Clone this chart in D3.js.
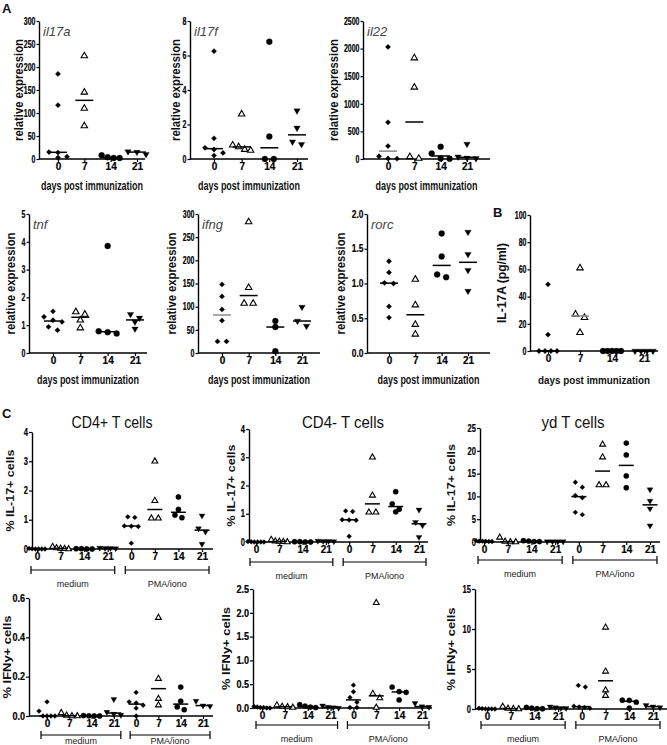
<!DOCTYPE html>
<html>
<head>
<meta charset="utf-8">
<script src="https://cdn.jsdelivr.net/npm/d3@7"></script>
<style>
body { margin: 0; background: #fff; }
text { font-family: "Liberation Sans Narrow", "Liberation Sans", Arial, sans-serif; }
</style>
</head>
<body>
<script>
// tick labels of the groups
var days = ["0", "7", "14", "21"];
var daysC = ["0", "7", "14", "21", "0", "7", "14", "21"];

// A: relative expression per day (0, 7, 14, 21)
var il17a = [[185, 117, 15, 14, 5, 3], [224, 145, 110, 72], [8, 4, 2, 2], [16, 10, 15]];
var il17f = [[6.25, 1.2, 0.65, 0.55, 0.35, 0.2], [2.6, 0.8, 0.7, 0.55, 0.5], [6.8, 1.3, 0, 0], [2.8, 1.8, 1.0, 0.85]];
var il22 = [[2030, 665, 235, 50, 10, 5], [1830, 1300, 40, 10], [220, 100, 10, 5], [270, 40, 20, 10]];
var tnf = [[1.5, 1.3, 1.18, 1.12, 0.94, 0.82], [1.48, 1.39, 1.18, 0.9], [3.85, 0.78, 0.75, 0.7], [1.39, 1.26, 1.12, 0.87]];
var ifng = [[148, 122, 94, 70, 25, 25], [283, 141, 107, 107], [69, 56, 4], [99, 69, 58]];
var rorc = [[1.32, 1.16, 1.01, 1.0, 0.67, 0.51], [1.06, 0.69, 0.41, 0.27], [1.72, 1.39, 1.13, 1.09], [1.74, 1.42, 1.19, 0.89]];

// B: IL-17A protein (pg/ml)
var il17aProtein = [[49, 12, 0, 0, 0, 0], [61, 27, 24.5, 13.5], [0, 0, 0, 0, 0], [0, 0, 0, 0]];

// C: % positive cells, medium days 0-21 then PMA/iono days 0-21
var cd4pIl17 = [[0.02, 0.01, 0, 0, 0, 0], [0.08, 0.03, 0.02, 0.01, 0], [0.01, 0.01, 0, 0], [0.04, 0.03, 0.03, 0.02],
                [1.1, 1.08, 0.79, 0.78, 0.77, 0.2], [3.0, 1.65, 1.05, 1.05], [1.78, 1.35, 1.16, 1.07], [1.14, 0.7, 0.59, 0.17]];
var cd4mIl17 = [[0.02, 0.01, 0, 0, 0, 0], [0.08, 0.03, 0.02, 0.01, 0], [0.01, 0.01, 0, 0], [0.04, 0.03, 0.03, 0.02],
                [1.1, 1.08, 0.79, 0.78, 0.77, 0.2], [3.0, 1.65, 1.05, 1.05], [1.78, 1.35, 1.16, 1.07], [1.14, 0.7, 0.59, 0.17]];
var gdIl17 = [[0.3, 0.2, 0.15, 0.1, 0.2, 0.1], [1.0, 0.1, 0.0, 0.0], [0.3, 0.2, 0.1, 0.1], [0.1, 0.1, 0.1, 0.1],
              [13.1, 12.0, 10.2, 9.7, 6.5, 6.0], [21.4, 18.6, 12.5, 12.5], [21.7, 19.1, 14.5, 11.9], [11.5, 9.0, 7.3, 3.6]];
var cd4pIfng = [[0.072, 0.025, 0, 0, 0, 0], [0.016, 0.003, 0, 0], [0.002, 0.001, 0, 0], [0.085, 0.02, 0.01, 0.005],
                [0.12, 0.072, 0.066, 0.055, 0.04, 0.0], [0.5, 0.19, 0.088, 0.055], [0.147, 0.075, 0.046, 0.032], [0.076, 0.053, 0.05]];
var cd4mIfng = [[0.03, 0.02, 0.01, 0.01, 0, 0], [0.06, 0.03, 0.02, 0.01], [0.07, 0.04, 0.02, 0.01], [0.05, 0.02, 0.01, 0.0],
                [0.48, 0.34, 0.22, 0.12, 0.01, 0.01], [2.21, 0.3, 0.21, 0.01], [0.44, 0.345, 0.33, 0.17], [0.1, 0.03, 0.02]];
var gdIfng = [[0.1, 0.05, 0.02, 0.02, 0.01, 0.0], [0.3, 0.05, 0.02, 0], [0.2, 0.1, 0.05, 0.03], [0.3, 0.2, 0.1, 0.1],
              [2.95, 2.75, 0.35, 0.25, 0.2, 0.1], [10.2, 4.7, 2.35, 1.66], [1.1, 1.08, 0.85, 0.12], [0.46, 0.3, 0.2]];

var svg = d3.select("body").append("svg")
    .attr("width", 667)
    .attr("height", 745);

// put a text; len squeezes it to the narrow look of the original
function label(x, y, str, o) {
    var t = svg.append("text")
        .attr("x", x)
        .attr("y", y)
        .attr("text-anchor", o.anchor || "middle")
        .style("font-size", o.size + "px")
        .style("font-weight", o.weight || "bold")
        .style("fill", o.fill || "#111")
        .text(str);
    if (o.italic) t.style("font-style", "italic");
    if (o.len) t.attr("textLength", o.len).attr("lengthAdjust", "spacingAndGlyphs");
    if (o.rotate) t.attr("transform", "rotate(-90," + x + "," + y + ")");
    if (o.family) t.style("font-family", o.family);
    return t;
}

// GraphPad-like scatter: points at about the same height share a row
function spread(vals, y, step, maxW, thr) {
    var pts = vals.map(function(v) { return {v: v, py: y(v)}; })
        .sort(function(a, b) { return a.py - b.py; });
    var rows = [];
    pts.forEach(function(p) {
        var r = rows[rows.length - 1];
        if (r && p.py - r.anchor < thr) r.pts.push(p);
        else rows.push({anchor: p.py, pts: [p]});
    });
    rows.forEach(function(r) {
        var k = r.pts.length;
        var s = k > 1 ? Math.min(step, maxW / (k - 1)) : 0;
        r.pts.forEach(function(p, i) { p.dx = (i - (k - 1) / 2) * s; });
    });
    return pts;
}

function drawPanel(p) {
    var small = p.small;
    var y = d3.scaleLinear().domain(p.domain).range([p.bottom, p.top]);
    var x = d3.scalePoint().domain(d3.range(p.data.length)).range([p.c0, p.c1]);
    var g = svg.append("g");

    var ya = g.append("g")
        .attr("transform", "translate(" + p.ax + ",0)")
        .call(d3.axisLeft(y).tickValues(p.ticks).tickFormat(p.fmt).tickSize(small ? 3 : 2.5).tickPadding(1).tickSizeOuter(0));
    var xa = g.append("g")
        .attr("transform", "translate(0," + p.bottom + ")")
        .call(d3.axisBottom(x).tickSize(3).tickPadding(1).tickFormat(function(i) { return p.labels[i]; }));
    xa.select(".domain").attr("d", "M" + p.ax + ",0H" + p.ex);

    [ya, xa].forEach(function(a) {
        a.select(".domain").attr("stroke-width", 1.4);
        a.selectAll(".tick line").attr("stroke-width", 1.2);
        a.selectAll(".tick text")
            .style("font-size", "10px")
            .style("font-weight", "bold")
            .attr("fill", "#000")
            .attr("stroke", "#000")
            .attr("stroke-width", 0.2);
    });
    // the y numbers are very narrow in the original
    ya.selectAll(".tick text")
        .attr("textLength", function() { return this.textContent.length * (small ? 4.2 : 3.9); })
        .attr("lengthAdjust", "spacingAndGlyphs");

    // points
    var sym = [
        d3.symbol().type(d3.symbolSquare).size(small ? 12 : 14),
        d3.symbol().type(d3.symbolTriangle).size(small ? 15 : 18),
        d3.symbol().type(d3.symbolCircle).size(small ? 22 : 28),
        d3.symbol().type(d3.symbolTriangle).size(small ? 15 : 18)
    ];
    var rot = [45, 0, 0, 180];
    p.data.forEach(function(vals, i) {
        var k = i % 4;
        var pts = spread(vals, y, small ? 7 : 9, small ? 16 : 18, 5.5);
        g.selectAll(null)
            .data(pts)
            .enter().append("path")
            .attr("d", sym[k]())
            .attr("transform", function(d) {
                return "translate(" + (x(i) + d.dx) + "," + d.py + ") rotate(" + rot[k] + ")";
            })
            .attr("fill", k === 1 ? "#fff" : "#000")
            .attr("stroke", "#000")
            .attr("stroke-width", k === 1 ? 1.1 : 0.3);

        var med = d3.median(vals);
        var hw = small ? 7.5 : 9;
        g.append("line")
            .attr("x1", x(i) - hw).attr("x2", x(i) + hw)
            .attr("y1", y(med)).attr("y2", y(med))
            .attr("stroke", (p.grayMed || []).indexOf(i) >= 0 ? "#8a8a8a" : "#000")
            .attr("stroke-width", 1.5);
    });

    // y label
    label(p.ylabX, (p.top + p.bottom) / 2, p.ylab, {size: small ? 10 : 12, len: p.ylabLen, rotate: true});
    if (p.gene) label(p.ax + 4, p.top + 15, p.gene, {size: 13, weight: "normal", italic: true, anchor: "start", fill: "#444", family: "Liberation Sans, Arial"});
    if (p.xlab) label((p.ax + p.ex) / 2, p.xlabY, p.xlab, {size: p.xlabSize || 12, len: p.xlabLen});
    if (p.title) label(p.titleX, p.titleY, p.title, {size: 17, weight: "normal", len: p.titleLen, family: "Liberation Sans, Arial"});

    // medium / PMA bracket
    if (p.bracketY) {
        [[0, 3, "medium"], [4, 7, "PMA/iono"]].forEach(function(b) {
            var x1 = x(b[0]) - 6, x2 = x(b[1]) + 7, by = p.bracketY;
            g.append("path")
                .attr("d", "M" + x1 + "," + (by - 4) + "V" + (by + 4) + "M" + x1 + "," + by + "H" + x2 +
                    "M" + x2 + "," + (by - 4) + "V" + (by + 4))
                .attr("fill", "none")
                .attr("stroke", "#000")
                .attr("stroke-width", 1.2);
            label((x1 + x2) / 2, by + (p.bracketGap || 17), b[2], {size: 9, weight: "normal", fill: "#222", family: "Liberation Sans, Arial"});
        });
    }
}

var fInt = d3.format("d");
var f1 = d3.format(".1f");

// panel A, first row
drawPanel({data: il17a, labels: days, ax: 39, ex: 145, c0: 58, c1: 137, top: 21, bottom: 159,
    domain: [0, 300], ticks: [0, 50, 100, 150, 200, 250, 300], fmt: fInt, gene: "il17a",
    ylab: "relative expression", ylabX: 23, ylabLen: 102, xlab: "days post immunization", xlabY: 190, xlabLen: 102});
drawPanel({data: il17f, labels: days, ax: 190, ex: 308, c0: 214, c1: 297, top: 21, bottom: 159,
    domain: [0, 8], ticks: [0, 2, 4, 6, 8], fmt: fInt, gene: "il17f",
    ylab: "relative expression", ylabX: 180, ylabLen: 102, xlab: "days post immunization", xlabY: 190, xlabLen: 102});
drawPanel({data: il22, labels: days, ax: 363, ex: 490, c0: 388, c1: 467, top: 21, bottom: 159,
    domain: [0, 2500], ticks: [0, 500, 1000, 1500, 2000, 2500], fmt: fInt, gene: "il22", grayMed: [0],
    ylab: "relative expression", ylabX: 338, ylabLen: 102, xlab: "days post immunization", xlabY: 190, xlabLen: 102});

// panel A, second row
drawPanel({data: tnf, labels: days, ax: 29, ex: 147, c0: 53, c1: 135, top: 214, bottom: 353,
    domain: [0, 5], ticks: [0, 1, 2, 3, 4, 5], fmt: fInt, gene: "tnf",
    ylab: "relative expression", ylabX: 15, ylabLen: 102, xlab: "days post immunization", xlabY: 384, xlabLen: 102});
drawPanel({data: ifng, labels: days, ax: 198, ex: 320, c0: 222, c1: 302, top: 214, bottom: 353,
    domain: [0, 300], ticks: [0, 50, 100, 150, 200, 250, 300], fmt: fInt, gene: "ifng", grayMed: [0],
    ylab: "relative expression", ylabX: 176, ylabLen: 102, xlab: "days post immunization", xlabY: 384, xlabLen: 102});
drawPanel({data: rorc, labels: days, ax: 367, ex: 490, c0: 389, c1: 468, top: 214, bottom: 353,
    domain: [0, 2], ticks: [0, 0.5, 1, 1.5, 2], fmt: f1, gene: "rorc",
    ylab: "relative expression", ylabX: 345, ylabLen: 102, xlab: "days post immunization", xlabY: 384, xlabLen: 102});

// panel B
drawPanel({data: il17aProtein, labels: days, ax: 530, ex: 658, c0: 548, c1: 644, top: 215, bottom: 351,
    domain: [0, 100], ticks: [0, 20, 40, 60, 80, 100], fmt: fInt, grayMed: [1],
    ylab: "IL-17A (pg/ml)", ylabX: 506, ylabLen: 80, xlab: "days post immunization", xlabY: 384, xlabLen: 112, xlabSize: 11});

// panel C, IL-17
drawPanel({data: cd4pIl17, labels: daysC, small: true, ax: 32, ex: 213, c0: 37, c1: 202, top: 432, bottom: 549,
    domain: [0, 4], ticks: [0, 1, 2, 3, 4], fmt: fInt, title: "CD4+ T cells", titleX: 112, titleY: 428, titleLen: 81,
    ylab: "% IL-17+ cells", ylabX: 14, ylabLen: 82, bracketY: 570});
drawPanel({data: cd4mIl17, labels: daysC, small: true, ax: 249, ex: 428, c0: 256, c1: 419, top: 429, bottom: 542,
    domain: [0, 4], ticks: [0, 1, 2, 3, 4], fmt: fInt, title: "CD4- T cells", titleX: 343, titleY: 428, titleLen: 82,
    ylab: "% IL-17+ cells", ylabX: 235, ylabLen: 82, bracketY: 562});
drawPanel({data: gdIl17, labels: daysC, small: true, ax: 480, ex: 660, c0: 484, c1: 650, top: 428, bottom: 542,
    domain: [0, 25], ticks: [0, 5, 10, 15, 20, 25], fmt: fInt, title: "yd T cells", titleX: 573, titleY: 428, titleLen: 63,
    ylab: "% IL-17+ cells", ylabX: 455, ylabLen: 82, bracketY: 560});

// panel C, IFNy
drawPanel({data: cd4pIfng, labels: daysC, small: true, ax: 29, ex: 213, c0: 47, c1: 203, top: 598, bottom: 716,
    domain: [0, 0.6], ticks: [0, 0.2, 0.4, 0.6], fmt: f1,
    ylab: "% IFNy+ cells", ylabX: 11, ylabLen: 83, bracketY: 735, bracketGap: 9});
drawPanel({data: cd4mIfng, labels: daysC, small: true, ax: 253, ex: 432, c0: 262, c1: 422, top: 589, bottom: 708,
    domain: [0, 2.5], ticks: [0, 0.5, 1, 1.5, 2, 2.5], fmt: f1,
    ylab: "% IFNy+ cells", ylabX: 230, ylabLen: 83, bracketY: 725});
drawPanel({data: gdIfng, labels: daysC, small: true, ax: 475, ex: 667, c0: 487, c1: 653, top: 589, bottom: 709,
    domain: [0, 15], ticks: [0, 5, 10, 15], fmt: fInt,
    ylab: "% IFNy+ cells", ylabX: 455, ylabLen: 83, bracketY: 725});

// panel letters
label(2, 13, "A", {size: 13, anchor: "start", family: "Liberation Sans, Arial"});
label(493, 217, "B", {size: 13, anchor: "start", family: "Liberation Sans, Arial"});
label(2, 418, "C", {size: 13, anchor: "start", family: "Liberation Sans, Arial"});
</script>
</body>
</html>
